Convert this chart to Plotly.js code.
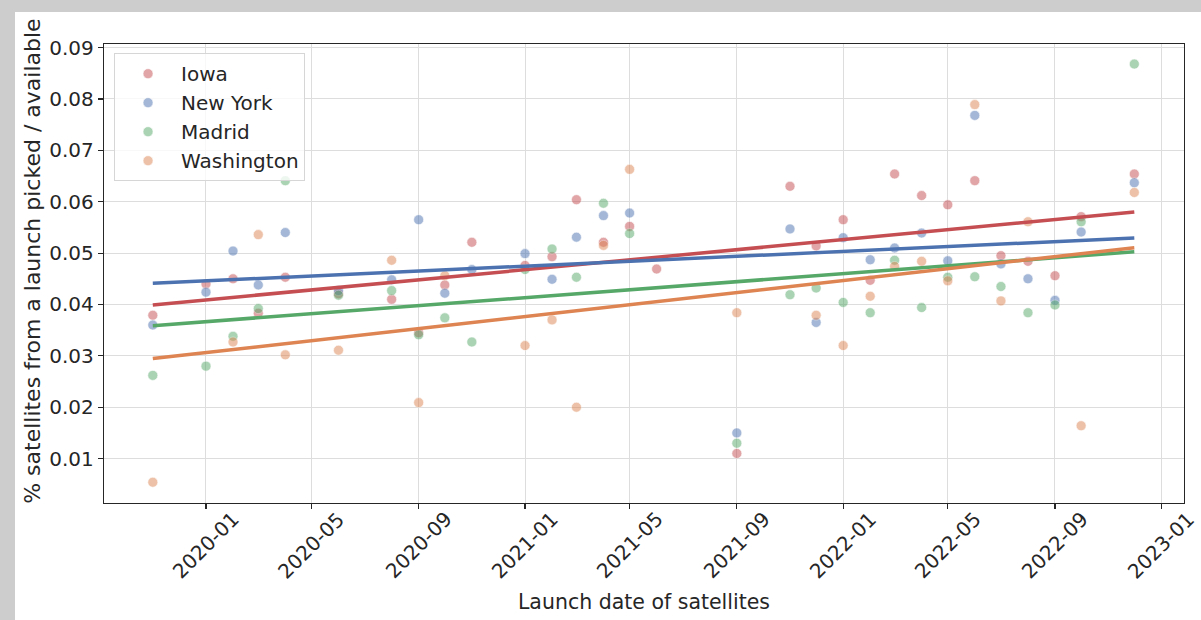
<!DOCTYPE html>
<html>
<head>
<meta charset="utf-8">
<script src="https://cdn.plot.ly/plotly-3.0.1.min.js"></script>
<style>
  html, body { margin: 0; padding: 0; width: 1201px; height: 620px; overflow: hidden; background: #cdcdcd; }
  #chart { position: absolute; left: 15px; top: 12px; width: 1186px; height: 608px; background: #ffffff; }
</style>
</head>
<body>
<div id="chart"></div>
<script>
// ---- data ----
const months = ['2019-11','2020-01','2020-02','2020-03','2020-04','2020-06','2020-08','2020-09','2020-10','2020-11',
                '2021-01','2021-02','2021-03','2021-04','2021-05','2021-06','2021-09','2021-11','2021-12','2022-01',
                '2022-02','2022-03','2022-04','2022-05','2022-06','2022-07','2022-08','2022-09','2022-10','2022-12'];

const iowa = [0.0379, 0.0440, 0.0450, 0.0383, 0.0453, 0.0421, 0.0410, 0.0345, 0.0438, 0.0521,
              0.0476, 0.0493, 0.0604, 0.0521, 0.0552, 0.0469, 0.0110, 0.0630, 0.0514, 0.0565,
              0.0447, 0.0654, 0.0612, 0.0594, 0.0641, 0.0495, 0.0484, 0.0456, 0.0571, 0.0654];

const newYork = [0.0360, 0.0424, 0.0504, 0.0438, 0.0540, 0.0427, 0.0448, 0.0565, 0.0422, 0.0468,
                 0.0499, 0.0449, 0.0531, 0.0573, 0.0578, null, 0.0150, 0.0547, 0.0365, 0.0530,
                 0.0487, 0.0510, 0.0539, 0.0485, 0.0768, 0.0479, 0.0450, 0.0408, 0.0541, 0.0637];

const madrid = [0.0262, 0.0280, 0.0338, 0.0392, 0.0641, 0.0418, 0.0427, 0.0341, 0.0374, 0.0327,
                0.0468, 0.0508, 0.0453, 0.0597, 0.0538, null, 0.0130, 0.0419, 0.0432, 0.0404,
                0.0384, 0.0486, 0.0394, 0.0453, 0.0454, 0.0435, 0.0384, 0.0399, 0.0561, 0.0868];

const washington = [0.0054, null, 0.0327, 0.0536, 0.0302, 0.0311, 0.0486, 0.0209, 0.0456, null,
                    0.0320, 0.0370, 0.0200, 0.0515, 0.0663, null, 0.0384, null, 0.0379, 0.0320,
                    0.0416, 0.0474, 0.0484, 0.0446, 0.0789, 0.0407, 0.0561, null, 0.0164, 0.0618];

const seriesNames = ['Iowa', 'New York', 'Madrid', 'Washington'];
const seriesColors = ['#C44E52', '#4C72B0', '#55A868', '#DD8452'];
const xTickLabels = ['2020-01','2020-05','2020-09','2021-01','2021-05','2021-09','2022-01','2022-05','2022-09','2023-01'];
const yTickVals = [0.01, 0.02, 0.03, 0.04, 0.05, 0.06, 0.07, 0.08, 0.09];
const xTitle = 'Launch date of satellites';
const yTitle = '% satellites from a launch picked / available';

// ---- build traces ----
const allSeries = [iowa, newYork, madrid, washington];
const dates = months.map(m => m + '-01');
const FONT = 'DejaVu Sans, sans-serif';
const TXT = '#262626';

function fitLine(vals) {
  const xs = [], ys = [];
  vals.forEach((v, i) => { if (v !== null) { xs.push(Date.parse(dates[i])); ys.push(v); } });
  const n = xs.length;
  const mx = xs.reduce((a, b) => a + b, 0) / n;
  const my = ys.reduce((a, b) => a + b, 0) / n;
  let sxy = 0, sxx = 0;
  for (let i = 0; i < n; i++) { sxy += (xs[i] - mx) * (ys[i] - my); sxx += (xs[i] - mx) ** 2; }
  const b = sxy / sxx, a = my - b * mx;
  const x0 = Math.min(...xs), x1 = Math.max(...xs);
  const toStr = t => new Date(t).toISOString().slice(0, 10);
  return { x: [toStr(x0), toStr(x1)], y: [a + b * x0, a + b * x1] };
}

const traces = [];
allSeries.forEach((vals, k) => {
  traces.push({
    type: 'scatter', mode: 'markers', name: seriesNames[k],
    x: dates, y: vals,
    marker: { color: seriesColors[k], size: 10, opacity: 0.5, line: { color: '#ffffff', width: 0.6 } },
    hoverinfo: 'x+y+name'
  });
});
allSeries.forEach((vals, k) => {
  const f = fitLine(vals);
  traces.push({
    type: 'scatter', mode: 'lines', name: seriesNames[k] + ' trend',
    x: f.x, y: f.y, showlegend: false,
    line: { color: seriesColors[k], width: 3.5 }, hoverinfo: 'skip'
  });
});

const tickDates = xTickLabels.map(s => s + '-01');
const annotations = xTickLabels.map((lab, i) => ({
  x: tickDates[i], xref: 'x', y: 0, yref: 'paper',
  text: lab, showarrow: false, textangle: -45,
  xanchor: 'center', yanchor: 'middle', yshift: -42,
  font: { family: FONT, size: 20, color: TXT }
}));
annotations.push({
  x: 0, xref: 'paper', y: 0.5254, yref: 'paper',
  text: yTitle, showarrow: false, textangle: -90,
  xanchor: 'center', yanchor: 'middle', xshift: -71,
  font: { family: FONT, size: 22, color: TXT }
});

const layout = {
  width: 1186, height: 608,
  margin: { l: 89, r: 17, t: 32, b: 117 },
  paper_bgcolor: '#ffffff', plot_bgcolor: '#ffffff',
  font: { family: FONT, size: 20, color: TXT },
  showlegend: true,
  legend: {
    x: 0.0093, y: 0.98, xanchor: 'left', yanchor: 'top',
    bgcolor: 'rgba(255,255,255,0.8)', bordercolor: '#d6d6d6', borderwidth: 1,
    font: { family: FONT, size: 20, color: TXT },
    itemwidth: 56, tracegroupgap: 0
  },
  xaxis: {
    type: 'date', range: ['2019-09-06', '2023-01-27'],
    tickmode: 'array', tickvals: tickDates, ticktext: xTickLabels, showticklabels: false,
    ticks: 'outside', ticklen: 5, tickwidth: 1.2, tickcolor: '#262626',
    showgrid: true, gridcolor: '#dddddd', gridwidth: 1,
    showline: true, linecolor: '#262626', linewidth: 1.3, mirror: true, zeroline: false,
    title: { text: xTitle, standoff: 86, font: { family: FONT, size: 20.5, color: TXT } }
  },
  yaxis: {
    range: [0.00136, 0.0907],
    tickmode: 'array', tickvals: yTickVals, ticktext: yTickVals.map(v => v.toFixed(2)),
    ticks: 'outside', ticklen: 5, tickwidth: 1.2, tickcolor: '#262626',
    tickfont: { family: FONT, size: 20, color: TXT },
    showgrid: true, gridcolor: '#dddddd', gridwidth: 1,
    showline: true, linecolor: '#262626', linewidth: 1.3, mirror: true, zeroline: false
  },
  annotations: annotations
};

Plotly.newPlot('chart', traces, layout, { displayModeBar: false, staticPlot: true });
</script>
</body>
</html>
